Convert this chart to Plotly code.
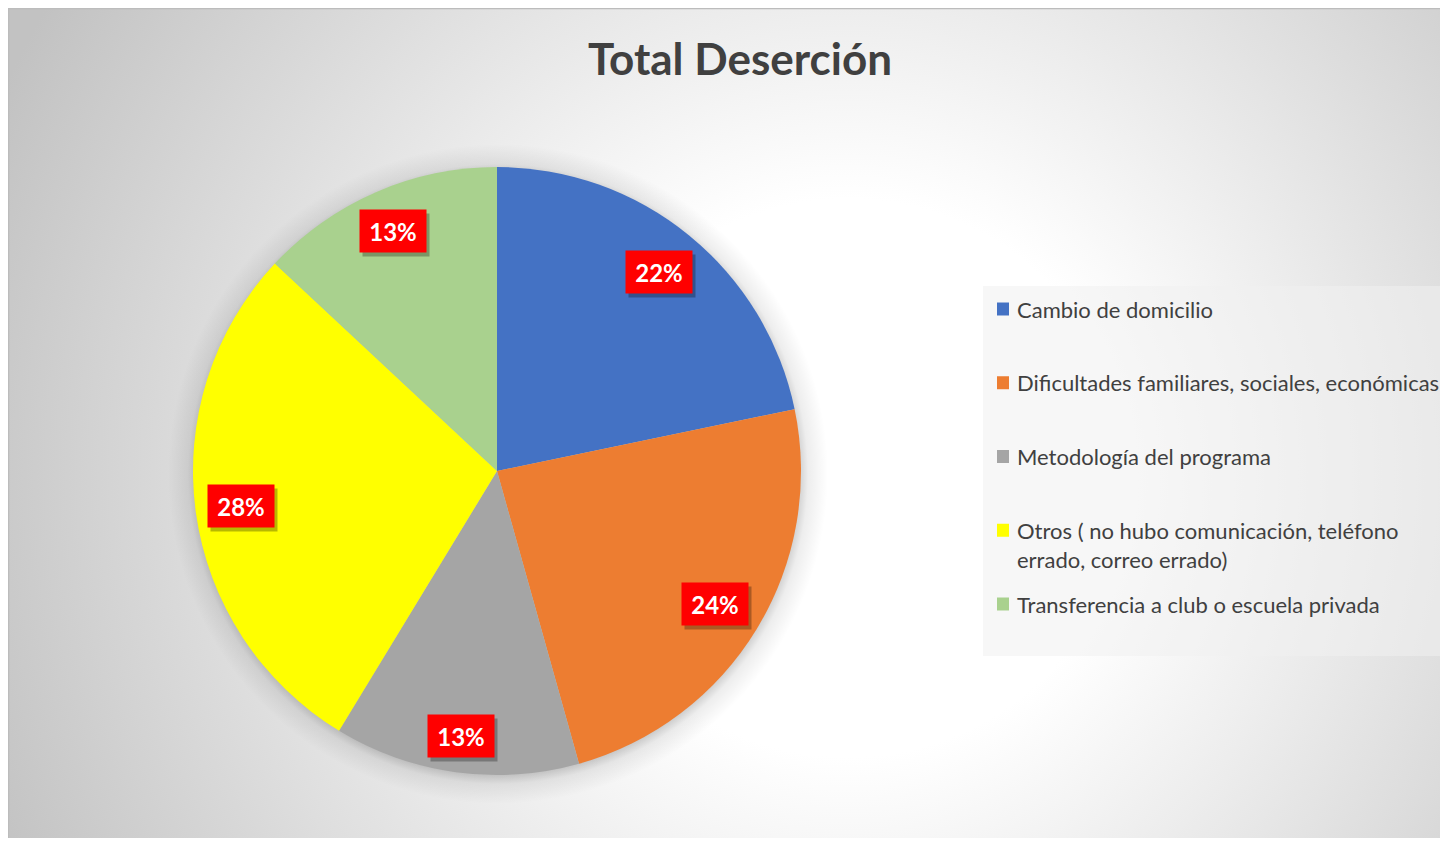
import math, base64, textwrap
import plotly.graph_objects as go

# ---------------- data ----------------
categories = [
    "Cambio de domicilio",
    "Dificultades familiares, sociales, económicas",
    "Metodología del programa",
    "Otros ( no hubo comunicación, teléfono errado, correo errado)",
    "Transferencia a club o escuela privada",
]
counts = [10, 11, 6, 13, 6]
colors = ["#4472C4", "#ED7D31", "#A5A5A5", "#FFFF00", "#A9D18E"]
title_text = "Total Deserción"

# ---------------- layout constants (px, figure coords) ----------------
W, H = 1432, 830
PIE_CX, PIE_CY, PIE_R = 489, 463, 304
TXT = "#404040"
FONT = "Lato, Open Sans, sans-serif"

dom_x = [(PIE_CX - PIE_R) / W, (PIE_CX + PIE_R) / W]
dom_y = [1 - (PIE_CY + PIE_R) / H, 1 - (PIE_CY - PIE_R) / H]

fig = go.Figure()
fig.add_trace(go.Pie(
    labels=categories, values=counts, sort=False, direction="clockwise",
    rotation=0, marker=dict(colors=colors, line=dict(width=0)),
    textinfo="none", showlegend=False, domain=dict(x=dom_x, y=dom_y),
    hovertemplate="%{label}<br>%{percent}<extra></extra>",
))

# ---------------- background (radial gradient + pie shadow) ----------------
svg = f'''<svg xmlns="http://www.w3.org/2000/svg" width="{W}" height="{H}" viewBox="0 0 {W} {H}" preserveAspectRatio="none">
<defs>
<radialGradient id="bg" gradientUnits="userSpaceOnUse" cx="840" cy="470" r="930">
<stop offset="0" stop-color="#ffffff"/>
<stop offset="0.3" stop-color="#ffffff"/>
<stop offset="1" stop-color="#c2c2c2"/>
</radialGradient>
<radialGradient id="sh" gradientUnits="userSpaceOnUse" cx="{PIE_CX+1}" cy="{PIE_CY+3}" r="{PIE_R+26}">
<stop offset="0" stop-color="#000" stop-opacity="0.22"/>
<stop offset="{(PIE_R-4)/(PIE_R+26):.4f}" stop-color="#000" stop-opacity="0.20"/>
<stop offset="{(PIE_R+6)/(PIE_R+26):.4f}" stop-color="#000" stop-opacity="0.07"/>
<stop offset="1" stop-color="#000" stop-opacity="0"/>
</radialGradient>
</defs>
<rect x="0" y="0" width="{W}" height="{H}" fill="url(#bg)"/>
<circle cx="{PIE_CX+1}" cy="{PIE_CY+3}" r="{PIE_R+26}" fill="url(#sh)"/>
<rect x="0.5" y="0.5" width="{W+10}" height="{H+10}" fill="none" stroke="#bcbcbc" stroke-width="1.5"/>
</svg>'''
src = "data:image/svg+xml;base64," + base64.b64encode(svg.encode("utf-8")).decode("ascii")

annotations = []
shapes = []

# ---------------- data labels (red boxes, inside end) ----------------
total = sum(counts)
BW, BH = 64, 40
D = PIE_R - 11
cum = 0
for v in counts:
    pct = v / total
    mid = (cum + pct / 2) * 2 * math.pi
    cum += pct
    ux, uy = math.sin(mid), -math.cos(mid)  # screen coords (y down)
    b = abs(ux) * BW / 2 + abs(uy) * BH / 2
    d = -b + math.sqrt(b * b - ((BW / 2) ** 2 + (BH / 2) ** 2 - D * D))
    px, py = PIE_CX + d * ux, PIE_CY + d * uy
    xp, yp = px / W, 1 - py / H
    annotations.append(dict(
        x=xp, y=yp, xref="paper", yref="paper", xanchor="center", yanchor="middle",
        text=" ", showarrow=False,
        width=BW, height=BH, bgcolor="rgba(0,0,0,0.28)", xshift=3, yshift=-4,
    ))
    annotations.append(dict(
        x=xp, y=yp, xref="paper", yref="paper", xanchor="center", yanchor="middle",
        text=f"<b>{round(pct*100)}%</b>",
        showarrow=False, width=BW, height=BH, bgcolor="#FF0000", valign="middle",
        font=dict(family=FONT, size=24, color="white"),
    ))

# ---------------- legend (manual) ----------------
shapes.append(dict(type="rect", xref="paper", yref="paper",
                   x0=975 / W, x1=1.0, y0=1 - 648 / H, y1=1 - 278 / H,
                   fillcolor="rgba(240,240,240,0.55)", line=dict(width=0), layer="below"))
y0, step, lh = 301, 73.75, 29
for i, (lab, col) in enumerate(zip(categories, colors)):
    yc = y0 + i * step
    shapes.append(dict(type="rect", xref="paper", yref="paper",
                       x0=989 / W, x1=1001 / W, y0=1 - (yc + 6.5) / H, y1=1 - (yc - 6.5) / H,
                       fillcolor=col, line=dict(width=0)))
    for j, line in enumerate(textwrap.wrap(lab, 45)):
        annotations.append(dict(
            x=1007 / W, y=1 - (yc + j * lh) / H, xref="paper", yref="paper",
            xanchor="left", yanchor="middle", text=line, showarrow=False,
            font=dict(family=FONT, size=22, color=TXT),
        ))

fig.update_layout(
    width=W, height=H, margin=dict(l=0, r=0, t=0, b=0),
    paper_bgcolor="white",
    images=[dict(source=src, xref="paper", yref="paper", x=0, y=1, sizex=1, sizey=1,
                 sizing="stretch", xanchor="left", yanchor="top", layer="below")],
    title=dict(text=f"<b>{title_text}</b>", x=732 / W, xanchor="center",
               y=1 - 52 / H, yanchor="middle",
               font=dict(family=FONT, size=44, color=TXT)),
    annotations=annotations, shapes=shapes, showlegend=False,
)

fig.write_html("out.html")
